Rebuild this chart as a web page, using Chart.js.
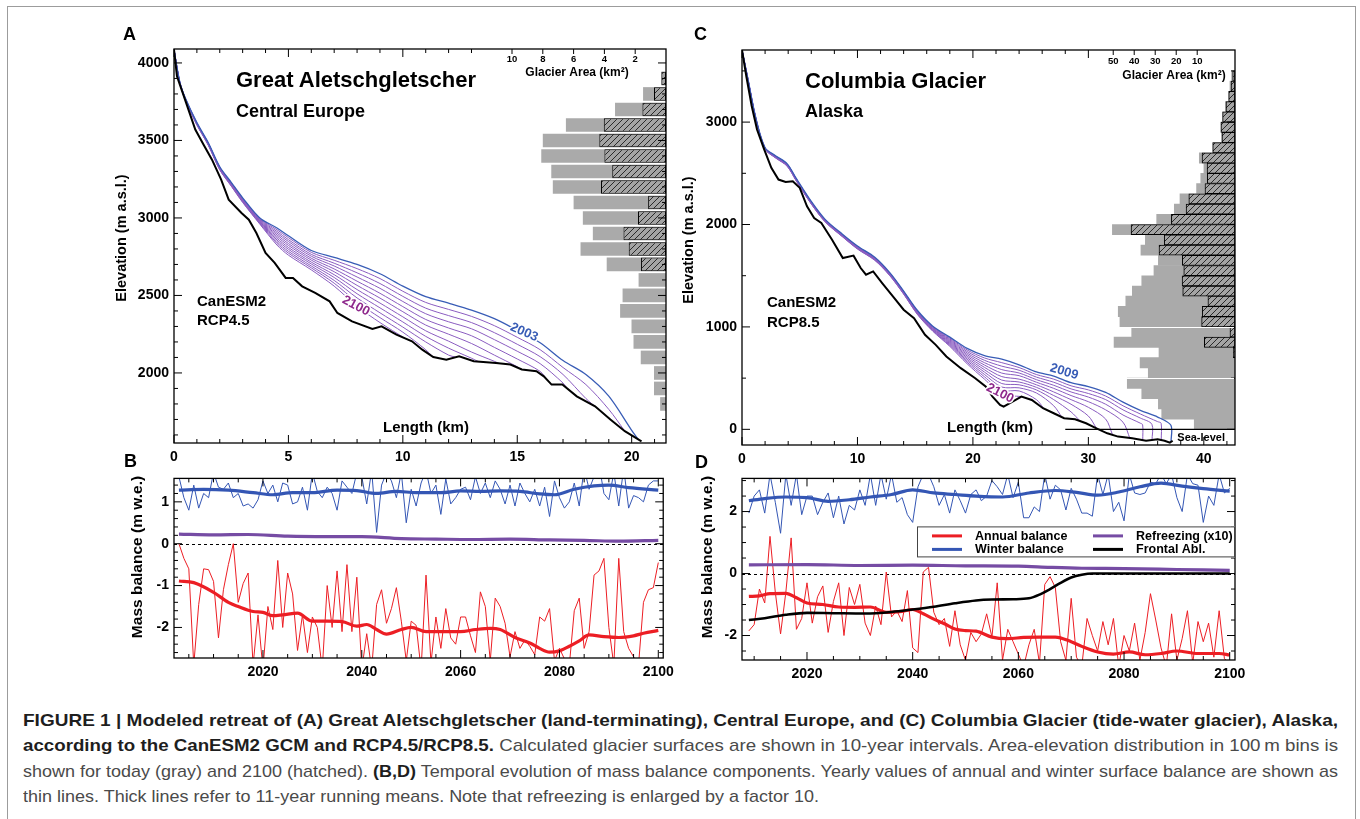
<!DOCTYPE html>
<html>
<head>
<meta charset="utf-8">
<script src="https://cdn.jsdelivr.net/npm/chart.js@4.4.1/dist/chart.umd.min.js"></script>
<style>
  body { margin: 0; width: 1360px; height: 819px; position: relative; overflow: hidden; background: #fff;
         font-family: "Liberation Sans", Arial, Helvetica, sans-serif; }
  canvas { position: absolute; }
  .t { position: absolute; font-weight: bold; color: #000; white-space: nowrap; line-height: 1; }
  .c { transform: translateX(-50%); }
  .r { transform: translate(-50%, -50%) rotate(-90deg); }
  #frame { position: absolute; left: 7px; top: 6px; width: 1347px; height: 900px;
           border: 1.5px solid #9c9c9c; border-bottom: none; }
  #caption { position: absolute; left: 23px; top: 708px; font-size: 17px; line-height: 25.3px; color: #4a4a4a;
             font-family: "Liberation Sans", Arial, Helvetica, sans-serif; }
  #caption div { white-space: nowrap; height: 25.3px; }
  #caption span { display: inline-block; transform-origin: 0 50%; }
  #caption b { color: #1e1e1e; }
</style>
</head>
<body>
<div id="frame"></div>

<canvas id="cA" width="580" height="445" style="left:100px;top:30px"></canvas>
<canvas id="cB" width="580" height="225" style="left:100px;top:465px"></canvas>
<canvas id="cC" width="590" height="446" style="left:668px;top:30px"></canvas>
<canvas id="cD" width="590" height="226" style="left:668px;top:465px"></canvas>

<div class="t" style="font-size:18px;left:123px;top:24.8px">A</div>
<div class="t" style="font-size:18px;left:124px;top:451.8px">B</div>
<div class="t" style="font-size:18px;left:694px;top:24.8px">C</div>
<div class="t" style="font-size:18px;left:695px;top:452.8px">D</div>

<div class="t" style="font-size:22px;left:236px;top:69.4px">Great Aletschgletscher</div>
<div class="t" style="font-size:18px;left:236px;top:101.8px">Central Europe</div>
<div class="t" style="font-size:15px;left:197px;top:293.3px">CanESM2</div>
<div class="t" style="font-size:15px;left:197px;top:312.3px">RCP4.5</div>
<div class="t c" style="font-size:15px;left:426px;top:419.3px">Length (km)</div>

<div class="t" style="font-size:22px;left:805px;top:70.4px">Columbia Glacier</div>
<div class="t" style="font-size:18px;left:805px;top:101.8px">Alaska</div>
<div class="t" style="font-size:15px;left:767px;top:294.3px">CanESM2</div>
<div class="t" style="font-size:15px;left:767px;top:314.3px">RCP8.5</div>
<div class="t c" style="font-size:15px;left:990px;top:419.3px">Length (km)</div>

<div class="t r" style="font-size:14.5px;left:121px;top:238px">Elevation (m a.s.l.)</div>
<div class="t r" style="font-size:14.5px;left:688px;top:240px">Elevation (m a.s.l.)</div>
<div class="t r" style="font-size:15.5px;left:137px;top:557px">Mass balance (m w.e.)</div>
<div class="t r" style="font-size:15.5px;left:707px;top:557px">Mass balance (m w.e.)</div>

<div id="caption">
  <div data-w="1315"><span><b>FIGURE 1 | Modeled retreat of (A) Great Aletschgletscher (land-terminating), Central Europe, and (C) Columbia Glacier (tide-water glacier), Alaska,</b></span></div>
  <div data-w="1315"><span><b>according to the CanESM2 GCM and RCP4.5/RCP8.5.</b> Calculated glacier surfaces are shown in 10-year intervals. Area-elevation distribution in 100&#8201;m bins is</span></div>
  <div data-w="1315"><span>shown for today (gray) and 2100 (hatched). <b>(B,D)</b> Temporal evolution of mass balance components. Yearly values of annual and winter surface balance are shown as</span></div>
  <div data-w="796"><span>thin lines. Thick lines refer to 11-year running means. Note that refreezing is enlarged by a factor 10.</span></div>
</div>

<script>
// ---------------------------------------------------------------
// Great Aletschgletscher (A)
// ---------------------------------------------------------------
const aletschBedKm = [0, 0.13, 0.53, 0.93, 1.3, 1.66, 2.06, 2.39, 2.95, 3.27, 3.6, 4.0, 4.4, 4.88, 5.2, 5.6, 6.17, 6.8, 7.14, 7.78,
  8.67, 9.07, 9.72, 10.4, 10.85, 11.33, 11.9, 12.46, 13.1, 14.07, 14.7, 15.2, 15.84, 16.16, 16.5, 16.97, 17.6, 18.4, 19.07, 19.7, 20.43];
const aletschBedZ = [4086, 3914, 3742, 3570, 3470, 3376, 3247, 3118, 3032, 2989, 2903, 2774, 2710, 2613, 2613, 2559, 2516, 2462, 2387, 2333,
  2284, 2301, 2247, 2204, 2150, 2103, 2086, 2108, 2075, 2064, 2054, 2022, 2011, 1978, 1925, 1925, 1849, 1785, 1699, 1624, 1559];

const aletschGridKm = [0, 0.25, 0.5, 1, 1.5, 2, 2.5, 3, 3.75, 4.5, 5, 6, 7, 8, 9, 10, 11, 12, 13, 14, 15, 16, 17, 18, 19, 20];
const aletschYears = [2003, 2010, 2020, 2030, 2040, 2050, 2060, 2070, 2080, 2090, 2100];
const aletschSurfaces = [
  [4086, 3880, 3772, 3615, 3485, 3330, 3230, 3130, 3000, 2935, 2885, 2790, 2745, 2700, 2640, 2560, 2492, 2450, 2405, 2350, 2275, 2195, 2080, 1990, 1850, 1630],
  [4086, 3879, 3771, 3613, 3483, 3328, 3228, 3127, 2996, 2924, 2873, 2778, 2727, 2673, 2609, 2527, 2455, 2410, 2365, 2305, 2230, 2150, 2035, 1925, 1765],
  [4086, 3878, 3770, 3612, 3481, 3326, 3225, 3124, 2992, 2913, 2860, 2765, 2708, 2646, 2577, 2494, 2418, 2370, 2325, 2260, 2185, 2105, 1990, 1835],
  [4086, 3877, 3768, 3610, 3480, 3324, 3223, 3121, 2988, 2902, 2848, 2753, 2690, 2619, 2546, 2461, 2382, 2330, 2285, 2215, 2140, 2060, 1935],
  [4086, 3876, 3767, 3609, 3478, 3322, 3220, 3118, 2984, 2891, 2835, 2740, 2671, 2592, 2514, 2428, 2345, 2290, 2240, 2165, 2090, 2010],
  [4086, 3875, 3766, 3607, 3477, 3320, 3218, 3115, 2980, 2880, 2823, 2728, 2653, 2565, 2483, 2395, 2309, 2250, 2190, 2115, 2040],
  [4086, 3874, 3765, 3606, 3475, 3318, 3215, 3112, 2976, 2869, 2810, 2715, 2634, 2538, 2451, 2362, 2272, 2205, 2135, 2075],
  [4086, 3873, 3764, 3604, 3474, 3316, 3213, 3109, 2972, 2858, 2798, 2703, 2616, 2511, 2420, 2329, 2236, 2160, 2095],
  [4086, 3872, 3763, 3603, 3472, 3314, 3210, 3106, 2968, 2847, 2785, 2690, 2597, 2484, 2388, 2296, 2200, 2115],
  [4086, 3871, 3762, 3601, 3470, 3312, 3208, 3103, 2964, 2836, 2773, 2678, 2579, 2457, 2357, 2263, 2150],
  [4086, 3870, 3760, 3600, 3468, 3310, 3205, 3100, 2960, 2825, 2760, 2665, 2560, 2430, 2325]
];
const aletschTermKm = [20.3, 19.7, 18.5, 17.2, 16.3, 15.1, 14.2, 13.3, 12.3, 11.3, 10.1];
const aletschTermZ = [1568, 1625, 1772, 1897, 1956, 2028, 2062, 2073, 2102, 2106, 2223];

const aletschBins = [3900, 3800, 3700, 3600, 3500, 3400, 3300, 3200, 3100, 3000, 2900, 2800, 2700, 2600, 2500, 2400, 2300, 2200, 2100, 2000, 1900, 1800];
const aletschAreaToday = [0.3, 1.49, 3.31, 6.5, 8.0, 8.1, 7.45, 7.35, 6.0, 5.4, 4.75, 5.55, 3.85, 1.78, 2.82, 2.98, 2.24, 2.11, 1.64, 0.78, 0.78, 0.38];
const aletschArea2100 = [0.3, 0.78, 1.53, 4.04, 4.33, 4.0, 3.49, 4.22, 1.16, 1.82, 2.76, 2.42, 1.62, null, null, null, null, null, null, null, null, null];
const aletschAreaTicks = [10, 8, 6, 4, 2];
const aletschKmTicks = [0, 5, 10, 15, 20];
const aletschElevTicks = [2000, 2500, 3000, 3500, 4000];

// ---------------------------------------------------------------
// Columbia Glacier (C)
// ---------------------------------------------------------------
const columbiaBedKm = [0, 0.37, 0.84, 1.3, 1.92, 2.54, 3.16, 3.78, 4.4, 5.0, 5.63, 6.25, 6.87, 7.8, 8.73, 9.66, 10.28, 10.74, 11.36, 12.14,
  13.07, 14.0, 14.9, 15.85, 16.78, 17.7, 18.95, 20.2, 21.1, 21.7, 22.35, 22.66, 23.28, 24.2, 25.1, 26.07, 27.0, 27.9, 28.85, 29.8,
  30.7, 31.64, 32.57, 33.8, 35.0, 36.0, 36.6, 37.06, 37.3];
const columbiaBedZ = [3704, 3450, 3157, 2928, 2733, 2553, 2439, 2416, 2423, 2358, 2178, 2064, 2015, 1852, 1673, 1696, 1575, 1510, 1542, 1428,
  1298, 1168, 1086, 923, 825, 711, 597, 499, 418, 320, 238, 222, 261, 320, 287, 206, 157, 108, 98, 59,
  10, -39, -71, -88, -111, -98, -111, -130, -111];

const columbiaGridKm = [0, 0.5, 1.2, 2, 2.9, 3.9, 4.7, 6, 7.2, 8.7, 10, 11.5, 12.8, 14, 15.2, 16.5, 18, 19.5, 21, 22.5,
  24, 25.5, 27, 28.5, 30, 31.5, 33, 34.5, 36];
const columbiaYears = [2009, 2010, 2020, 2030, 2040, 2050, 2060, 2070, 2080, 2090, 2100];
const columbiaSurfaces = [
  [3704, 3430, 3040, 2750, 2672, 2595, 2450, 2225, 2050, 1905, 1790, 1680, 1530, 1350, 1160, 1010, 900, 790, 720, 685, 630, 560, 520, 455, 418, 360, 265, 185, 120],
  [3704, 3429, 3038, 2748, 2670, 2593, 2447, 2222, 2047, 1902, 1787, 1677, 1527, 1347, 1156, 1005, 891, 775, 697, 651, 603, 535, 490, 425, 385, 325, 230, 150, 75],
  [3704, 3428, 3037, 2747, 2668, 2590, 2445, 2220, 2045, 1900, 1784, 1674, 1524, 1344, 1152, 1000, 882, 760, 674, 617, 577, 510, 460, 395, 350, 290, 190, 110],
  [3704, 3427, 3035, 2745, 2666, 2588, 2442, 2217, 2042, 1897, 1781, 1671, 1521, 1341, 1148, 995, 873, 745, 651, 583, 550, 485, 430, 365, 315, 245, 140, 60],
  [3704, 3426, 3034, 2744, 2664, 2585, 2440, 2215, 2040, 1895, 1778, 1668, 1518, 1338, 1144, 990, 864, 730, 628, 549, 524, 460, 400, 330, 270, 190, 70],
  [3704, 3425, 3032, 2742, 2662, 2583, 2437, 2212, 2037, 1892, 1775, 1665, 1515, 1335, 1140, 985, 855, 715, 605, 515, 490, 435, 365, 290, 215, 100],
  [3704, 3424, 3031, 2741, 2659, 2580, 2435, 2210, 2035, 1890, 1772, 1662, 1512, 1332, 1136, 980, 846, 700, 582, 481, 462, 410, 330, 245, 130],
  [3704, 3423, 3029, 2739, 2657, 2578, 2432, 2207, 2032, 1887, 1769, 1659, 1509, 1329, 1132, 975, 837, 685, 559, 447, 435, 385, 290, 170],
  [3704, 3422, 3028, 2738, 2655, 2575, 2430, 2205, 2030, 1885, 1766, 1656, 1506, 1326, 1128, 970, 828, 670, 536, 413, 405, 355, 230],
  [3704, 3421, 3026, 2736, 2652, 2573, 2427, 2202, 2027, 1882, 1763, 1653, 1503, 1323, 1124, 965, 819, 655, 513, 379, 375, 290],
  [3704, 3420, 3025, 2735, 2650, 2570, 2425, 2200, 2025, 1880, 1760, 1650, 1500, 1320, 1120, 960, 810, 640, 490, 345]
];
const columbiaTermKm = [37.15, 36.3, 35.5, 34.7, 33.6, 32.1, 30.7, 29.3, 27.7, 26.1, 24.2];
const columbiaTermZ = [-118, -105, -108, -104, -90, -55, 10, 80, 120, 210, 320];
const columbiaFrontZ = [40, 60, 50, 45, null, null, null, null, null, null, null];

const columbiaBins = [3450, 3350, 3250, 3150, 3050, 2950, 2850, 2750, 2650, 2550, 2450, 2350, 2250, 2150, 2050, 1950, 1850, 1750,
  1650, 1550, 1450, 1350, 1250, 1150, 1050, 950, 850, 750, 650, 550, 450, 350, 250, 150, 50];
const columbiaAreaToday = [1.6, 2.4, 3.0, 4.6, 5.9, 6.7, 6.4, 10.6, 17, 14.8, 16.3, 18.3, 26.2, 28.9, 37.3, 58.4, 42.7, 44.8,
  36.5, 38.6, 44.4, 48.9, 52, 55.6, 54.8, 49.2, 57.6, 36.2, 45.2, 41.3, 51.3, 44.4, 36.5, 34.9, 19.4];
const columbiaArea2100 = [1.1, 1.9, 3.0, 4.3, 5.9, 6.7, 6.2, 10.6, 15.7, 13.3, 13.2, 14.3, 22, 23.3, 30.3, 49.5, 33.7, 36.2,
  25.1, 24.4, 25.2, 24.9, 12.9, 15.6, 15.9, 2.4, 14.6, 0.8, null, null, null, null, null, null, null];
const columbiaAreaTicks = [50, 40, 30, 20, 10];
const columbiaKmTicks = [0, 10, 20, 30, 40];
const columbiaElevTicks = [0, 1000, 2000, 3000];

// ---------------------------------------------------------------
// Mass balance (B: Aletsch 2003-2100, D: Columbia 2009-2100)
// ---------------------------------------------------------------
const aletschFirstYear = 2003;
const aletschAnnual = [
  0.0, -0.35, -0.6, -2.9, -1.45, -0.6, -0.62, -0.9, -2.25, -1.1,
  -0.5, 0.0, -1.4, -0.95, -0.7, -2.9, -1.7, -3.0, -1.5, -2.05,
  -0.4, -2.0, -0.7, -1.2, -2.55, -1.7, -2.6, -1.75, -2.0, -3.0,
  -1.0, -2.0, -0.65, -2.1, -0.5, -2.1, -0.8, -3.0, -2.15, -3.0,
  -1.45, -1.1, -1.9, -1.55, -1.05, -1.85, -2.8, -1.85, -1.95, -3.0,
  -0.75, -2.85, -1.75, -2.5, -1.55, -2.25, -2.4, -1.75, -1.75, -2.2,
  -2.6, -1.15, -1.5, -2.8, -1.3, -1.5, -1.9, -2.7, -2.1, -2.5,
  -2.3, -2.45, -2.65, -1.75, -1.85, -1.55, -2.8, -2.5, -2.75, -2.9,
  -1.6, -1.3, -2.5, -2.1, -0.75, -0.65, -0.35, -2.0, -2.9, -0.35,
  -2.1, -2.5, -2.7, -2.9, -1.4, -1.1, -1.05, -0.45];
const aletschWinter = [
  1.6, 1.1, 0.8, 1.4, 0.85, 1.2, 1.1, 1.7, 1.35, 1.3,
  1.45, 1.1, 1.2, 0.9, 0.95, 0.85, 1.05, 1.5, 1.2, 1.4,
  1.0, 1.45, 1.4, 0.95, 1.0, 1.35, 0.8, 1.7, 1.25, 1.1,
  1.35, 1.2, 0.8, 1.5, 1.35, 1.2, 1.7, 1.6, 0.95, 1.75,
  0.27, 1.4, 1.7, 1.5, 1.1, 1.7, 0.5, 1.3, 0.9, 1.45,
  1.75, 1.2, 1.4, 0.7, 1.55, 0.95, 1.1, 1.3, 1.35, 1.05,
  1.6, 1.2, 1.45, 1.1, 1.5, 1.3, 0.95, 1.4, 0.9, 1.45,
  1.2, 1.0, 1.3, 0.9, 1.35, 0.65, 1.5, 1.1, 0.85, 1.0,
  1.45, 0.9, 1.8, 1.3, 1.6, 1.9, 1.2, 1.05, 1.7, 0.9,
  1.8, 0.85, 1.15, 1.1, 1.0, 1.4, 1.5, 1.5];
const aletschAnnualMeanYears = [2003, 2006, 2010, 2013, 2015, 2018, 2020, 2022, 2024, 2027, 2030, 2033, 2036, 2039, 2041, 2043, 2045, 2048, 2050,
  2053, 2056, 2060, 2063, 2066, 2068, 2071, 2074, 2076, 2078, 2080, 2082, 2084, 2086, 2089, 2092, 2095, 2097, 2100];
const aletschAnnualMean = [-0.89, -0.93, -1.16, -1.4, -1.5, -1.62, -1.64, -1.72, -1.7, -1.66, -1.85, -1.85, -1.86, -1.97, -1.93, -2.05, -2.16, -2.05, -2.0,
  -2.1, -2.1, -2.1, -2.05, -2.02, -2.05, -2.24, -2.37, -2.5, -2.59, -2.56, -2.45, -2.32, -2.18, -2.22, -2.24, -2.2, -2.14, -2.07];
const aletschWinterMeanYears = [2003, 2008, 2013, 2018, 2022, 2026, 2030, 2035, 2039, 2043, 2047, 2051, 2056, 2060, 2064, 2068, 2072, 2076, 2079, 2083, 2087, 2090, 2094, 2100];
const aletschWinterMean = [1.28, 1.3, 1.28, 1.22, 1.17, 1.22, 1.22, 1.28, 1.27, 1.2, 1.25, 1.22, 1.22, 1.26, 1.25, 1.26, 1.25, 1.19, 1.17, 1.3, 1.38, 1.4, 1.34, 1.28];
const aletschRefreezeYears = [2003, 2010, 2017, 2025, 2033, 2040, 2048, 2055, 2062, 2070, 2078, 2085, 2092, 2100];
const aletschRefreeze = [0.23, 0.21, 0.22, 0.18, 0.17, 0.17, 0.12, 0.11, 0.1, 0.11, 0.09, 0.08, 0.06, 0.08];

const columbiaFirstYear = 2009;
const columbiaAnnual = [
  -1.85, -1.65, -0.5, -0.95, 1.2, -0.6, -1.95, -0.6, 1.15, -1.8,
  -1.45, -0.3, -1.6, -0.75, -0.4, -1.9, -0.9, -0.3, -2.0, -0.45,
  -1.0, -0.35, -1.6, -2.0, -1.05, -1.65, 0.05, -1.4, -1.2, -1.55,
  -0.55, -2.4, -2.55, 0.05, 0.2, -1.25, -1.65, -1.45, -2.35, -1.2,
  -2.3, -2.8, -1.9, -2.2, -1.95, -1.3, -2.05, -0.3, -2.8, -1.8,
  -2.2, -2.6, -3.0, -2.3, -1.8, -2.9, -0.35, -0.1, -0.45, -2.2,
  -2.8, -0.8, -2.7, -3.0, -1.45, -2.0, -2.5, -1.55, -2.3, -1.45,
  -3.0, -2.0, -2.5, -1.6, -2.8, -1.9, -0.65, -1.5, -2.4, -3.0,
  -1.3, -2.8, -2.1, -1.2, -2.9, -1.55, -2.2, -1.6, -2.7, -1.2,
  -2.75, -2.9];
const columbiaWinter = [
  1.95, 2.5, 2.7, 1.95, 3.2, 2.3, 1.3, 3.2, 2.2, 3.2,
  1.9, 2.5, 2.5, 1.9, 2.3, 2.6, 1.8, 2.5, 1.6, 2.2,
  2.05, 2.7, 2.2, 3.2, 2.2, 3.2, 2.4, 3.2, 2.3, 2.45,
  1.9, 1.65, 2.8, 3.2, 3.2, 2.8, 2.2, 2.55, 1.95, 2.7,
  2.35, 1.95, 2.55, 2.7, 2.35, 2.5, 3.0, 2.8, 2.55, 3.2,
  2.45, 2.95, 1.8, 1.8, 2.15, 2.0, 3.2, 2.4, 2.85, 2.7,
  2.05, 2.75, 2.4, 1.95, 1.95, 1.85, 3.2, 2.55, 3.2, 2.0,
  2.3, 1.7, 3.2, 2.6, 2.55, 2.6, 2.95, 2.9, 3.2, 2.9,
  3.2, 2.45, 2.0, 3.2, 2.9, 2.85, 1.65, 2.5, 2.2, 3.2,
  2.6, 2.75];
const columbiaAnnualMeanYears = [2009, 2011, 2013, 2016, 2018, 2020, 2023, 2026, 2029, 2032, 2035, 2038, 2040, 2042, 2044, 2046, 2048, 2050,
  2052, 2055, 2058, 2061, 2064, 2067, 2070, 2072, 2075, 2078, 2081, 2084, 2087, 2090, 2094, 2098, 2100];
const columbiaAnnualMean = [-0.74, -0.72, -0.65, -0.64, -0.78, -0.95, -1.0, -1.08, -1.09, -1.08, -1.25, -1.22, -1.16, -1.3, -1.47, -1.62, -1.79, -1.84,
  -1.86, -2.05, -2.1, -2.06, -2.05, -2.05, -2.2, -2.35, -2.53, -2.6, -2.53, -2.62, -2.58, -2.5, -2.58, -2.58, -2.63];
const columbiaWinterMeanYears = [2009, 2012, 2016, 2020, 2024, 2028, 2032, 2036, 2040, 2044, 2048, 2052, 2057, 2062, 2067, 2071, 2075, 2079, 2083, 2087, 2091, 2095, 2100];
const columbiaWinterMean = [2.35, 2.42, 2.47, 2.45, 2.33, 2.38, 2.47, 2.55, 2.7, 2.6, 2.55, 2.5, 2.47, 2.6, 2.68, 2.62, 2.53, 2.63, 2.8, 2.92, 2.82, 2.74, 2.66];
const columbiaRefreezeYears = [2009, 2020, 2030, 2040, 2050, 2060, 2066, 2072, 2080, 2090, 2100];
const columbiaRefreeze = [0.28, 0.29, 0.26, 0.27, 0.25, 0.24, 0.2, 0.17, 0.16, 0.13, 0.1];
const columbiaFrontalYears = [2009, 2012, 2016, 2020, 2025, 2031, 2036, 2040, 2044, 2048, 2052, 2055, 2059, 2062, 2064, 2066, 2068, 2070, 2072, 2074, 2076, 2080, 2090, 2100];
const columbiaFrontal = [-1.5, -1.44, -1.33, -1.27, -1.28, -1.29, -1.24, -1.16, -1.07, -0.96, -0.87, -0.84, -0.83, -0.8, -0.68, -0.5, -0.3, -0.13, -0.04, 0.0, 0.0, 0.0, 0.0, 0.0];

const yearTicks = [2020, 2040, 2060, 2080, 2100];
const balanceTicksB = [-2, -1, 0, 1];
const balanceTicksD = [-2, 0, 2];
const legendLabels = ["Annual balance", "Winter balance", "Refreezing (x10)", "Frontal Abl."];

// ---------------------------------------------------------------
// styling
// ---------------------------------------------------------------
const FONT = '"Liberation Sans", Arial, Helvetica, sans-serif';
const RED = "rgb(236, 30, 36)";
const BLUE = "rgb(52, 86, 180)";
const PURPLE = "rgb(138, 92, 192)";
const REFREEZE = "rgb(118, 76, 164)";
const SURF_BLUE = "rgb(56, 92, 182)";

Chart.defaults.font.family = FONT;
Chart.defaults.color = "#000";
Chart.defaults.animation = false;

const hatch = (() => {
  const c = document.createElement("canvas");
  c.width = 6; c.height = 6;
  const g = c.getContext("2d");
  g.fillStyle = "#a4a4a4";
  g.fillRect(0, 0, 6, 6);
  g.strokeStyle = "#1c1c1c";
  g.lineWidth = 0.9;
  g.beginPath();
  g.moveTo(0, 6); g.lineTo(6, 0);
  g.moveTo(-1, 1); g.lineTo(1, -1);
  g.moveTo(5, 7); g.lineTo(7, 5);
  g.stroke();
  return g.createPattern(c, "repeat");
})();

// box + inward ticks on all four sides
const frameTicks = {
  id: "frameTicks",
  afterDatasetsDraw(chart, _args, o) {
    const { ctx, chartArea: a } = chart;
    const { x, y } = chart.scales;
    const each = (scale, minor, major, fn) => {
      const n0 = Math.ceil(scale.min / minor - 1e-9);
      const n1 = Math.floor(scale.max / minor + 1e-9);
      for (let n = n0; n <= n1; n++) {
        const v = n * minor;
        const r = v / major;
        fn(scale.getPixelForValue(v), Math.abs(r - Math.round(r)) < 1e-6 ? 8 : 4, v);
      }
    };
    ctx.save();
    ctx.strokeStyle = "#000";
    ctx.lineWidth = 1;
    ctx.beginPath();
    each(x, o.xMinor, o.xMajor, (p, len, v) => {
      ctx.moveTo(p, a.bottom); ctx.lineTo(p, a.bottom - len);
      if (v <= o.topUntil) { ctx.moveTo(p, a.top); ctx.lineTo(p, a.top + len); }
    });
    each(y, o.yMinor, o.yMajor, (p, len) => {
      ctx.moveTo(a.left, p); ctx.lineTo(a.left + len, p);
      ctx.moveTo(a.right, p); ctx.lineTo(a.right - len, p);
    });
    ctx.stroke();
    ctx.lineWidth = 1.3;
    ctx.strokeRect(a.left, a.top, a.right - a.left, a.bottom - a.top);
    ctx.restore();
  }
};

// rotated year labels on the surface lines
const yearLabels = {
  id: "yearLabels",
  afterDatasetsDraw(chart, _args, o) {
    if (!o.items) return;
    const { ctx } = chart;
    const { x, y } = chart.scales;
    ctx.save();
    ctx.font = "bold 13px " + FONT;
    ctx.textAlign = "center";
    ctx.textBaseline = "middle";
    o.items.forEach((it) => {
      ctx.save();
      ctx.translate(x.getPixelForValue(it.x), y.getPixelForValue(it.y));
      ctx.rotate((it.angle * Math.PI) / 180);
      ctx.strokeStyle = "#fff";
      ctx.lineWidth = 3;
      ctx.lineJoin = "round";
      ctx.strokeText(it.text, 0, 0);
      ctx.fillStyle = it.color;
      ctx.fillText(it.text, 0, 0);
      ctx.restore();
    });
    ctx.restore();
  }
};

// area axis of the histograms, drawn inside the top of the frame
const areaAxis = {
  id: "areaAxis",
  afterDatasetsDraw(chart, _args, o) {
    if (!o.ticks) return;
    const { ctx, chartArea: a } = chart;
    const s = chart.scales.xArea;
    ctx.save();
    ctx.fillStyle = "#000";
    ctx.strokeStyle = "#000";
    ctx.lineWidth = 1;
    if (o.whiteLines) {
      ctx.save();
      ctx.strokeStyle = "#fff";
      ctx.beginPath();
      o.whiteLines.forEach((v) => {
        const py = Math.round(chart.scales.y.getPixelForValue(v)) + 0.5;
        ctx.moveTo(s.getPixelForValue(o.whiteFrom), py);
        ctx.lineTo(a.right - 1, py);
      });
      ctx.stroke();
      ctx.restore();
    }
    ctx.font = "bold 9.5px " + FONT;
    ctx.textAlign = "center";
    ctx.beginPath();
    o.ticks.forEach((v) => {
      const p = s.getPixelForValue(v + o.shift);
      ctx.moveTo(p, a.top);
      ctx.lineTo(p, a.top + 5);
      ctx.fillText(String(v), p, a.top + o.labelDy);
    });
    ctx.stroke();
    ctx.font = "bold 12px " + FONT;
    ctx.fillText("Glacier Area (km\u00B2)", a.right + o.titleDx, a.top + o.titleDy);
    ctx.restore();
  }
};

// sea level line (C)
const seaLevel = {
  id: "seaLevel",
  afterDatasetsDraw(chart, _args, o) {
    if (o.fromKm == null) return;
    const { ctx, chartArea: a } = chart;
    const { x, y } = chart.scales;
    const py = y.getPixelForValue(0);
    ctx.save();
    ctx.strokeStyle = "#000";
    ctx.lineWidth = 1.2;
    ctx.beginPath();
    ctx.moveTo(x.getPixelForValue(o.fromKm), py);
    ctx.lineTo(a.right, py);
    ctx.stroke();
    ctx.font = "bold 11px " + FONT;
    ctx.textAlign = "right";
    ctx.fillStyle = "#000";
    ctx.fillText(o.text, a.right - 10, py + 12);
    ctx.restore();
  }
};

// dashed zero line (B, D)
const zeroLine = {
  id: "zeroLine",
  beforeDatasetsDraw(chart, _args, o) {
    if (!o.show) return;
    const { ctx, chartArea: a } = chart;
    const py = Math.round(chart.scales.y.getPixelForValue(0)) + 0.5;
    ctx.save();
    ctx.strokeStyle = "#000";
    ctx.lineWidth = 1;
    ctx.setLineDash([3, 3]);
    ctx.beginPath();
    ctx.moveTo(a.left, py);
    ctx.lineTo(a.right, py);
    ctx.stroke();
    ctx.restore();
  }
};

// boxed legend (D)
const boxLegend = {
  id: "boxLegend",
  afterDraw(chart, _args, o) {
    if (!o.show) return;
    const { ctx, chartArea: a } = chart;
    const w = 318, h = 31;
    const left = a.right - w, top = a.top + 48;
    const colors = [RED, BLUE, REFREEZE, "#000"];
    ctx.save();
    ctx.fillStyle = "#fff";
    ctx.fillRect(left, top, w, h);
    ctx.strokeStyle = "#444";
    ctx.lineWidth = 1;
    ctx.strokeRect(left + 0.5, top + 0.5, w - 1, h - 1);
    ctx.font = "bold 12.5px " + FONT;
    ctx.textBaseline = "middle";
    legendLabels.forEach((label, i) => {
      const col = Math.floor(i / 2), row = i % 2;
      const lx = left + (col === 0 ? 15 : 176);
      const ly = top + (row === 0 ? 9.5 : 23);
      ctx.strokeStyle = colors[i];
      ctx.lineWidth = 3;
      ctx.beginPath();
      ctx.moveTo(lx, ly);
      ctx.lineTo(lx + 30, ly);
      ctx.stroke();
      ctx.fillStyle = "#000";
      ctx.fillText(label, lx + 43, ly + 0.5);
    });
    ctx.restore();
  }
};

Chart.register(frameTicks, yearLabels, areaAxis, seaLevel, zeroLine, boxLegend);

function pts(xs, ys) {
  return xs.map((x, i) => ({ x, y: ys[i] }));
}

function lineDs(xs, ys, color, width, order, extra) {
  return Object.assign({
    type: "line", data: pts(xs, ys), borderColor: color, borderWidth: width,
    pointRadius: 0, tension: 0, order, fill: false
  }, extra || {});
}

function axisOptions(min, max, ticks, fitKey, fitSize) {
  return {
    type: "linear", min, max, offset: false,
    grid: { display: false, drawTicks: false, offset: false },
    border: { display: false },
    ticks: { padding: fitKey === "height" ? 6 : 5, autoSkip: false, maxRotation: 0,
             font: { size: 14, weight: "bold" }, color: "#000", callback: (v) => String(v) },
    afterBuildTicks: (s) => { s.ticks = ticks.map((v) => ({ value: v })); },
    afterFit: (s) => { s[fitKey] = fitSize; }
  };
}

function profileChart(id, c) {
  const datasets = [lineDs(c.bedKm, c.bedZ, "#000", 2, 0)];
  c.rows.forEach((row, k) => {
    const data = pts(c.grid.slice(0, row.length), row);
    if (c.frontZ && c.frontZ[k] != null) {
      data.push({ x: c.termKm[k], y: c.frontZ[k] });
      data.push({ x: c.termKm[k] + 0.01, y: c.termZ[k] });
    } else {
      data.push({ x: c.termKm[k], y: c.termZ[k] });
    }
    datasets.push({
      type: "line", data, borderColor: k === 0 ? SURF_BLUE : PURPLE, borderWidth: k === 0 ? 1.3 : 1,
      pointRadius: 0, tension: 0.3, order: k === 0 ? 1 : 2, fill: false
    });
  });
  datasets.push({
    type: "bar", indexAxis: "y", xAxisID: "xArea", yAxisID: "y",
    data: c.bins.map((b, i) => ({ x: c.today[i], y: b })),
    backgroundColor: "#aaaaaa", borderWidth: 0, grouped: false,
    barPercentage: c.barPct, categoryPercentage: 1, order: 10
  });
  datasets.push({
    type: "bar", indexAxis: "y", xAxisID: "xArea", yAxisID: "y",
    data: c.bins.map((b, i) => ({ x: c.future[i], y: b })).filter((p) => p.x != null),
    backgroundColor: hatch, borderColor: "#000", borderWidth: 1, borderSkipped: false, grouped: false,
    barPercentage: c.barPct, categoryPercentage: 1, order: 9
  });

  return new Chart(document.getElementById(id), {
    type: "line",
    data: { datasets },
    options: {
      responsive: false, devicePixelRatio: 1, events: [],
      layout: { padding: { left: 0, top: c.padTop, right: c.padRight, bottom: 0 } },
      scales: {
        x: axisOptions(0, c.kmMax, c.kmTicks, "height", c.xHeight),
        y: axisOptions(c.zMin, c.zMax, c.zTicks, "width", 74),
        xArea: { type: "linear", position: "top", reverse: true, min: 0, max: c.areaMax, display: false,
                 offset: false, beginAtZero: true }
      },
      plugins: {
        legend: { display: false }, tooltip: { enabled: false },
        frameTicks: c.frame,
        yearLabels: { items: c.labels },
        areaAxis: c.area,
        seaLevel: c.sea || {}
      }
    }
  });
}

function balanceChart(id, c) {
  return new Chart(document.getElementById(id), {
    type: "line",
    data: { datasets: c.datasets },
    options: {
      responsive: false, devicePixelRatio: 1, events: [],
      layout: { padding: { left: 0, top: c.padTop, right: c.padRight, bottom: 0 } },
      scales: {
        x: axisOptions(c.xMin, 2101, yearTicks, "height", c.xHeight),
        y: axisOptions(c.yMin, c.yMax, c.yTicks, "width", 74)
      },
      plugins: {
        legend: { display: false }, tooltip: { enabled: false },
        frameTicks: c.frame,
        zeroLine: { show: true },
        boxLegend: { show: !!c.legend }
      }
    }
  });
}

// ---------------------------------------------------------------
// panels
// ---------------------------------------------------------------
profileChart("cA", {
  bedKm: aletschBedKm, bedZ: aletschBedZ, grid: aletschGridKm, rows: aletschSurfaces,
  termKm: aletschTermKm, termZ: aletschTermZ,
  bins: aletschBins, today: aletschAreaToday, future: aletschArea2100, barPct: 0.88,
  kmMax: 21.5, kmTicks: aletschKmTicks, zMin: 1548, zMax: 4090, zTicks: aletschElevTicks,
  areaMax: 31.95, padTop: 19, padRight: 14, xHeight: 32,
  frame: { xMinor: 1, xMajor: 5, yMinor: 100, yMajor: 500, topUntil: 13.5 },
  labels: [
    { text: String(aletschYears[0]), x: 15.3, y: 2262, angle: 24, color: SURF_BLUE },
    { text: String(aletschYears[10]), x: 7.95, y: 2432, angle: 28, color: "rgb(142, 40, 140)" }
  ],
  area: { ticks: aletschAreaTicks, shift: 0, labelDy: 13, titleDx: -89, titleDy: 26.5 }
});

profileChart("cC", {
  bedKm: columbiaBedKm, bedZ: columbiaBedZ, grid: columbiaGridKm, rows: columbiaSurfaces,
  termKm: columbiaTermKm, termZ: columbiaTermZ, frontZ: columbiaFrontZ,
  bins: columbiaBins, today: columbiaAreaToday, future: columbiaArea2100, barPct: 1,
  kmMax: 42.7, kmTicks: columbiaKmTicks, zMin: -153, zMax: 3704, zTicks: columbiaElevTicks,
  areaMax: 234.8, padTop: 20, padRight: 23, xHeight: 31,
  frame: { xMinor: 2, xMajor: 10, yMinor: 500, yMajor: 1000, topUntil: 31 },
  labels: [
    { text: String(columbiaYears[0]), x: 27.9, y: 562, angle: 17, color: SURF_BLUE },
    { text: String(columbiaYears[10]), x: 22.35, y: 352, angle: 27, color: "rgb(142, 40, 140)" }
  ],
  area: { ticks: columbiaAreaTicks, shift: 8, labelDy: 13.5, titleDx: -61, titleDy: 29,
          whiteLines: [500, 1000], whiteFrom: 62 },
  sea: { fromKm: 28, text: "Sea-level" }
});

const aletschYearsB = aletschAnnual.map((_, i) => aletschFirstYear + i);
balanceChart("cB", {
  xMin: 2002, yMin: -2.73, yMax: 1.56, yTicks: balanceTicksB,
  padTop: 8, padRight: 14, xHeight: 32,
  frame: { xMinor: 5, xMajor: 20, yMinor: 0.2, yMajor: 1, topUntil: 9999 },
  datasets: [
    lineDs(aletschYearsB, aletschAnnual, RED, 1, 5),
    lineDs(aletschYearsB, aletschWinter, BLUE, 1, 5),
    lineDs(aletschAnnualMeanYears, aletschAnnualMean, RED, 3.2, 1, { cubicInterpolationMode: "monotone" }),
    lineDs(aletschWinterMeanYears, aletschWinterMean, BLUE, 3.2, 1, { cubicInterpolationMode: "monotone" }),
    lineDs(aletschRefreezeYears, aletschRefreeze, REFREEZE, 3.2, 1, { cubicInterpolationMode: "monotone" })
  ]
});

const columbiaYearsD = columbiaAnnual.map((_, i) => columbiaFirstYear + i);
balanceChart("cD", {
  xMin: 2007.7, yMin: -2.79, yMax: 3.07, yTicks: balanceTicksD,
  padTop: 9, padRight: 23, xHeight: 31, legend: true,
  frame: { xMinor: 5, xMajor: 20, yMinor: 0.5, yMajor: 2, topUntil: 9999 },
  datasets: [
    lineDs(columbiaYearsD, columbiaAnnual, RED, 1, 5),
    lineDs(columbiaYearsD, columbiaWinter, BLUE, 1, 5),
    lineDs(columbiaAnnualMeanYears, columbiaAnnualMean, RED, 3.2, 1, { cubicInterpolationMode: "monotone" }),
    lineDs(columbiaWinterMeanYears, columbiaWinterMean, BLUE, 3.2, 1, { cubicInterpolationMode: "monotone" }),
    lineDs(columbiaRefreezeYears, columbiaRefreeze, REFREEZE, 3.2, 1, { cubicInterpolationMode: "monotone" }),
    lineDs(columbiaFrontalYears, columbiaFrontal, "#000", 2.6, 0, { cubicInterpolationMode: "monotone" })
  ]
});

// ---------------------------------------------------------------
// caption: squeeze each line horizontally to the width seen in the reference
// ---------------------------------------------------------------
document.querySelectorAll("#caption > div").forEach((line) => {
  const span = line.querySelector("span");
  const target = Number(line.dataset.w);
  const w0 = span.getBoundingClientRect().width;
  span.style.transform = "scaleX(" + (target / w0).toFixed(4) + ")";
});
</script>
</body>
</html>
